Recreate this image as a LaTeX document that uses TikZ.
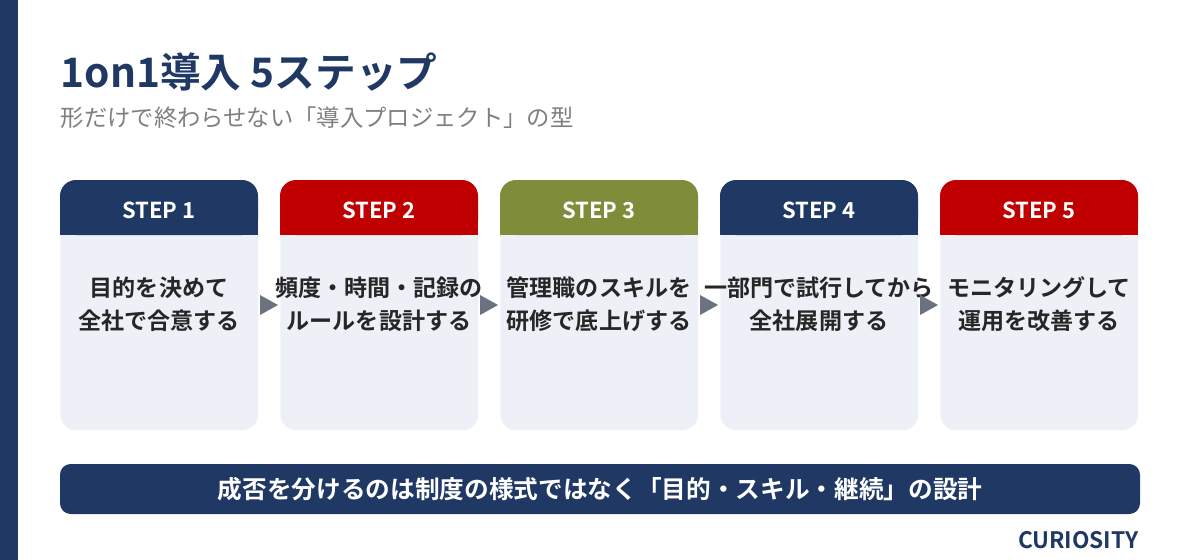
\documentclass[tikz,border=0pt]{standalone}
\usepackage{fontspec}
\setmainfont{Noto Sans CJK JP}
\newfontfamily\jpbold{Noto Sans CJK JP Bold}
\usetikzlibrary{positioning}
\definecolor{navy}{HTML}{1F3864}
\definecolor{stepred}{HTML}{C00000}
\definecolor{olive}{HTML}{7F8C3A}
\definecolor{cardbg}{HTML}{EDF0F7}
\definecolor{arrowgray}{HTML}{6B7280}
\definecolor{subgray}{HTML}{7F7F7F}
\tikzstyle{head}=[rounded corners=12pt, inner sep=0pt, minimum width=148.5pt, minimum height=41pt, text=white, font=\jpbold\fontsize{16.5}{16.5}\selectfont]
\tikzstyle{body}=[fill=cardbg, rounded corners=12pt, inner sep=0pt, minimum width=148.5pt, minimum height=172.5pt]
\tikzstyle{steptext}=[align=center, font=\jpbold\fontsize{17.3}{25}\selectfont, text=black!85]
\tikzstyle{tri}=[fill=arrowgray]
\begin{document}
\begin{tikzpicture}[x=0.75pt, y=-0.75pt]
    \useasboundingbox (0,0) rectangle (1200,560);
    \fill[navy] (0,0) rectangle (18,560);
    \node[anchor=west, text=navy, font=\jpbold\fontsize{30.5}{30.5}\selectfont] (title) at (56,72) {1on1導入 5ステップ};
    \node[anchor=west, text=subgray, font=\fontsize{17.5}{17.5}\selectfont] (sub) at (56,118) {形だけで終わらせない「導入プロジェクト」の型};
    \foreach \i/\c/\la/\lb in {1/navy/目的を決めて/全社で合意する,
                               2/stepred/頻度・時間・記録の/ルールを設計する,
                               3/olive/管理職のスキルを/研修で底上げする,
                               4/navy/一部門で試行してから/全社展開する,
                               5/stepred/モニタリングして/運用を改善する}{
        \pgfmathsetmacro{\xl}{60+220*(\i-1)}
        \node[body, anchor=north west] (b\i) at (\xl,200) {};
        \fill[\c, rounded corners=12pt] (\xl,180) rectangle ++(198,55);
        \fill[\c] (\xl,215) rectangle ++(198,20);
        \node[head] (h\i) at (\xl+99,210) {STEP \i};
        \node[steptext] (t\i) at (\xl+99,304) {\la\\\lb};
    }
    \foreach \i in {1,...,4}{
        \pgfmathsetmacro{\xa}{260+220*(\i-1)}
        \fill[tri] (\xa,295) -- (\xa+18,305) -- (\xa,315) -- cycle;
    }
    \node[fill=navy, rounded corners=8pt, minimum width=810pt, minimum height=37.5pt, text=white, font=\jpbold\fontsize{18.5}{18.5}\selectfont] (bar) at (600,489) {成否を分けるのは制度の様式ではなく「目的・スキル・継続」の設計};
    \node[anchor=east, text=navy, font=\jpbold\fontsize{17}{17}\selectfont] (brand) at (1143,540) {CURIOSITY};
\end{tikzpicture}
\end{document}
